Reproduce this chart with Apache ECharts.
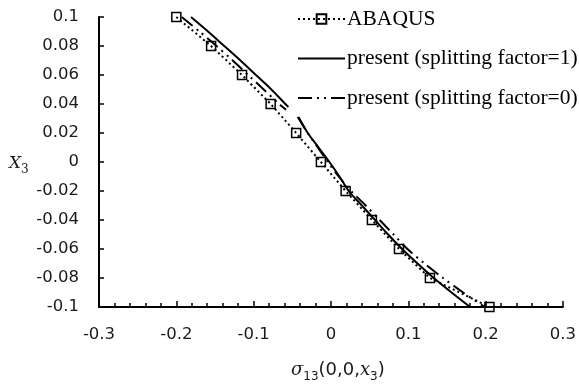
<!DOCTYPE html>
<html><head><meta charset="utf-8">
<script src="https://cdn.jsdelivr.net/npm/echarts@6/dist/echarts.min.js"></script>
<style>html,body{margin:0;padding:0;background:#fff}#c{width:579px;height:385px}</style>
</head><body><div id="c"></div>
<script>
// ABAQUS reference points
const abaqusX = [-0.200,-0.155,-0.115,-0.078,-0.045,-0.013,0.019,0.053,0.088,0.128,0.205];
const abaqusY = [0.10,0.08,0.06,0.04,0.02,0.00,-0.02,-0.04,-0.06,-0.08,-0.10];
// present (splitting factor=1), two segments
const sf1UpX = [-0.181,-0.159,-0.138,-0.117,-0.097,-0.077,-0.059,-0.055];
const sf1UpY = [0.10,0.09,0.08,0.07,0.06,0.05,0.04,0.038];
const sf1LoX = [-0.042,-0.030,-0.016,-0.002,0.011,0.023,0.040,0.057,0.074,0.092,0.112,0.133,0.156,0.180];
const sf1LoY = [0.031,0.02,0.01,0.00,-0.01,-0.02,-0.03,-0.04,-0.05,-0.06,-0.07,-0.08,-0.09,-0.10];
// present (splitting factor=0), two segments
const sf0UpX = [-0.193,-0.170,-0.148,-0.127,-0.107,-0.087,-0.067,-0.058];
const sf0UpY = [0.10,0.09,0.08,0.07,0.06,0.05,0.04,0.036];
const sf0LoX = [-0.043,-0.030,-0.017,-0.004,0.010,0.026,0.045,0.063,0.081,0.099,0.121,0.145,0.171,0.199];
const sf0LoY = [0.031,0.02,0.01,0.00,-0.01,-0.02,-0.03,-0.04,-0.05,-0.06,-0.07,-0.08,-0.09,-0.10];
// axis ticks
const xTicks = {min:-0.3, max:0.3, step:0.1};
const yTicks = {min:-0.1, max:0.1, step:0.02};
const names = ['ABAQUS','present (splitting factor=1)','present (splitting factor=0)'];

const zip = (a,b) => a.map((v,i)=>[v,b[i]]);
const chart = echarts.init(document.getElementById('c'), null, {renderer:'canvas'});
const lbl = {fontFamily:'DejaVu Sans', fontSize:16.5, color:'#1a1a1a'};
const solid = {color:'#000', width:2, type:'solid'};
const dashdot = {color:'#000', width:2, type:[14,5,2,5,2,5]};
const noSym = {color:'rgba(0,0,0,0)', borderColor:'rgba(0,0,0,0)', borderWidth:0};
chart.setOption({
  animation:false,
  backgroundColor:'#fff',
  grid:{left:99, right:14, top:17, bottom:78, containLabel:false},
  xAxis:{type:'value', min:xTicks.min, max:xTicks.max, interval:xTicks.step,
    axisLine:{onZero:false, lineStyle:{color:'#000', width:2}},
    axisTick:{inside:true, length:6, lineStyle:{color:'#000', width:1.5}},
    minorTick:{show:true, splitNumber:5, length:4, lineStyle:{color:'#000', width:1.5}},
    splitLine:{show:false},
    axisLabel:Object.assign({margin:19}, lbl)},
  yAxis:{type:'value', min:yTicks.min, max:yTicks.max, interval:yTicks.step,
    axisLine:{show:true, onZero:false, lineStyle:{color:'#000', width:2}},
    axisTick:{show:true, inside:true, length:5, lineStyle:{color:'#000', width:1.5}},
    splitLine:{show:false},
    axisLabel:Object.assign({margin:20}, lbl)},
  legend:{orient:'vertical', left:297, top:8, padding:0, itemWidth:47, itemHeight:12, itemGap:17.5,
    data:[{name:names[0]},{name:names[1], itemStyle:noSym},{name:names[2], itemStyle:noSym}],
    textStyle:{fontFamily:'Liberation Serif', fontSize:21.5, lineHeight:22, color:'#000', padding:[0,0,0,-3]}},
  series:[
    {name:names[0], type:'line', data:zip(abaqusX,abaqusY), symbol:'rect', symbolSize:9,
      showAllSymbol:true,
      lineStyle:{color:'#000', width:2, type:[2,3]},
      itemStyle:{color:'rgba(255,255,255,0)', borderColor:'#000', borderWidth:1.5}, z:3},
    {name:names[1], type:'line', data:zip(sf1UpX,sf1UpY), symbol:'none', smooth:0.3, lineStyle:solid, itemStyle:{color:'#000'}},
    {name:names[1], type:'line', data:zip(sf1LoX,sf1LoY), symbol:'none', smooth:0.3, lineStyle:solid, itemStyle:{color:'#000'}},
    {name:names[2], type:'line', data:zip(sf0UpX,sf0UpY), symbol:'none', smooth:0.3, lineStyle:dashdot, itemStyle:{color:'#000'}},
    {name:names[2], type:'line', data:zip(sf0LoX,sf0LoY), symbol:'none', smooth:0.3, lineStyle:dashdot, itemStyle:{color:'#000'}}
  ],
  graphic:[
    {type:'text', left:9, top:155, style:{
      text:'{i|X}{s|3}',
      rich:{i:{fontFamily:'DejaVu Serif', fontStyle:'italic', fontSize:17, lineHeight:24, verticalAlign:'middle', fill:'#1a1a1a'},
            s:{fontFamily:'DejaVu Serif', fontSize:12, lineHeight:14, verticalAlign:'bottom', fill:'#1a1a1a'}}}},
    {type:'text', left:291, top:361, style:{
      text:'{i|σ}{s|13}{n|(0,0,}{i|x}{s|3}{n|)}',
      rich:{i:{fontFamily:'DejaVu Serif', fontStyle:'italic', fontSize:18, lineHeight:26, verticalAlign:'middle', fill:'#1a1a1a'},
            n:{fontFamily:'DejaVu Sans', fontSize:18, lineHeight:26, verticalAlign:'middle', fill:'#1a1a1a'},
            s:{fontFamily:'DejaVu Sans', fontSize:12, lineHeight:14, verticalAlign:'bottom', fill:'#1a1a1a'}}}}
  ]
});
</script></body></html>
